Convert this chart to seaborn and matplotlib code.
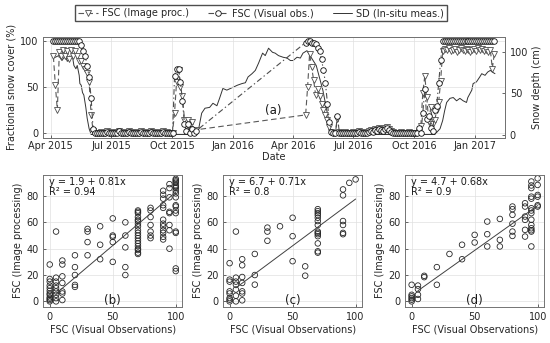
import pandas as pd
import matplotlib
matplotlib.use("Agg")
import matplotlib.pyplot as plt
import matplotlib.dates as mdates
import seaborn as sns

# --- panel (a): FSC every 3 days, two observation periods ---
p1_start = "2015-04-05"
p1_img = [83, 52, 25, 88, 84, 90, 83, 89, 80, 90, 84, 89, 84, 78, 78, 73, 70, 65, 55, 20, 3, 0,
          1, 0, 2, 0, 1, 3, 0, 2, 1, 0, 2, 3, 1, 0, 2, 1, 3, 2, 0, 1,
          2, 0, 3, 1, 2, 0, 1, 3, 2, 1, 0, 2, 1, 3, 0, 2, 1, 0,
          1, 22, 55, 68, 50, 40, 15, 8, 15, 5, 12, 3, 4]
p1_vis = [100, 100, 100, 100, 100, 100, 100, 100, 100, 100, 100, 100, 100, 100, 95, 89, 84, 73, 61, 38, 5, 0,
          0, 0, 1, 0, 0, 2, 0, 0, 1, 0, 0, 3, 0, 0, 1, 0, 2, 0, 0, 0,
          1, 0, 2, 0, 0, 0, 1, 2, 0, 0, 0, 1, 0, 2, 0, 0, 0, 0,
          0, 62, 70, 70, 55, 35, 10, 3, 10, 0, 5, 0, 3]

p2_start = "2016-04-20"
p2_img = [20, 50, 86, 72, 58, 42, 48, 40, 32, 25, 20, 14, 7, 2, 0, 1, 16, 2,
          1, 0, 2, 1, 0, 1, 2, 0, 1, 3, 2, 1, 0, 2, 3, 4, 3, 5, 4, 6,
          5, 4, 6, 7, 5, 3, 2, 1, 0, 1, 2, 0, 1, 0, 2, 1, 0, 1,
          1, 2, 8, 44, 62, 39, 12, 28, 10, 14, 25, 34, 57, 89,
          91, 90, 92, 89, 90, 91, 88, 90, 92, 90, 89, 91, 90, 88, 90, 91, 89, 92, 90, 91, 89, 90, 88,
          90, 70, 86]
p2_vis = [98, 100, 100, 98, 97, 96, 92, 89, 80, 68, 54, 32, 12, 2, 0, 0, 19, 1,
          0, 0, 1, 0, 0, 0, 1, 0, 0, 2, 1, 0, 0, 1, 2, 3, 2, 4, 3, 5,
          4, 3, 5, 6, 4, 2, 1, 0, 0, 0, 1, 0, 0, 0, 1, 0, 0, 0,
          0, 6, 0, 22, 48, 16, 19, 6, 3, 25, 30, 54, 79, 100,
          100, 100, 100, 100, 100, 100, 100, 100, 100, 100, 100, 100, 100, 100, 100, 100, 100, 100, 100, 100, 100, 100, 100,
          100, 100, 100]

sd_dates = ["2015-04-05", "2015-04-08", "2015-04-13", "2015-04-18", "2015-04-23", "2015-04-26", "2015-05-01",
            "2015-05-04", "2015-05-06", "2015-05-09", "2015-05-11", "2015-05-14", "2015-05-15", "2015-05-17",
            "2015-05-19", "2015-05-21", "2015-05-24", "2015-05-26", "2015-05-29", "2015-06-01", "2015-11-08",
            "2015-11-10", "2015-11-15", "2015-11-20", "2015-11-27", "2015-12-02", "2015-12-08", "2015-12-12",
            "2015-12-17", "2015-12-23", "2015-12-31", "2016-01-08", "2016-01-15", "2016-01-20", "2016-01-24",
            "2016-01-30", "2016-02-04", "2016-02-09", "2016-02-15", "2016-02-19", "2016-02-24", "2016-03-01",
            "2016-03-05", "2016-03-10", "2016-03-17", "2016-03-23", "2016-03-28", "2016-04-01", "2016-04-07",
            "2016-04-12", "2016-04-16", "2016-04-22", "2016-05-06", "2016-05-16", "2016-05-25", "2016-05-29",
            "2016-11-01", "2016-11-09", "2016-11-13", "2016-11-16", "2016-11-19", "2016-11-24", "2016-11-29",
            "2016-12-04", "2016-12-09", "2016-12-14", "2016-12-19", "2016-12-21", "2016-12-27", "2016-12-29",
            "2017-01-03", "2017-01-08", "2017-01-11", "2017-01-16", "2017-01-20", "2017-01-24", "2017-01-27",
            "2017-01-31"]
sd_cm = [94, 94, 96, 90, 96, 89, 93, 94, 84, 80, 84, 72, 62, 60, 51, 48, 33, 20, 7, 0, 0,
         5, 26, 32, 33, 38, 35, 44, 56, 54, 57, 60, 62, 63, 70, 74, 78, 87, 99, 96, 105, 100,
         99, 96, 94, 93, 90, 90, 94, 93, 99, 102, 84, 54, 17, 0,
         0, 7, 17, 29, 39, 44, 45, 41, 44, 41, 39, 45, 54, 62, 64, 70, 74, 72, 76, 78, 76, 74]

# --- panels (b)-(d): visual vs image-processing FSC ---
b_vis = [0, 0, 0, 0, 0, 0, 0, 0, 0, 0, 0, 0,
         5, 5, 5, 5, 5, 5, 5, 5, 5,
         10, 10, 10, 10, 10, 10, 10,
         20, 20, 20, 20, 20,
         30, 30, 30, 30,
         40, 40, 40,
         50, 50, 50, 50, 50,
         60, 60, 60, 60, 60,
         70, 70, 70, 70, 70, 70, 70, 70, 70, 70, 70, 70, 70, 70, 70, 70, 70, 70, 70,
         80, 80, 80, 80, 80, 80, 80,
         90, 90, 90, 90, 90, 90, 90, 90, 90, 90, 90, 90,
         95, 95, 95, 95, 95, 95, 95, 95,
         100, 100, 100, 100, 100, 100, 100, 100, 100, 100, 100, 100, 100, 100, 100, 100, 100, 100]
b_img = [28, 17, 15, 12, 10, 8, 6, 5, 3, 2, 1, 0,
         53, 18, 15, 12, 10, 7.5, 5, 2.5, 0,
         31, 28, 19, 14, 7.5, 6, 1,
         35, 26, 20, 12.5, 11,
         55, 53, 45, 35,
         57, 43, 32,
         63, 50, 49, 45, 30,
         60, 50, 41, 26, 20,
         69, 68, 67, 64, 62, 61, 59, 57, 54, 52, 50, 48, 46, 44, 42, 40, 39, 37, 36,
         71, 69, 64, 58, 53, 50, 48,
         84, 81, 78, 73, 71, 62, 59, 57, 54, 52, 49, 47,
         89, 86, 79, 68, 67, 58, 54, 40,
         93, 92, 91, 90, 88, 87, 86, 84, 82, 79, 73, 72, 69, 67, 53, 52, 25, 23]

c_vis = [0, 0, 0, 0, 0, 0, 0, 0,
         5, 5, 5, 5, 5, 5, 5,
         10, 10, 10, 10, 10, 10, 10,
         20, 20, 20,
         30, 30, 30,
         40,
         50, 50, 50,
         60, 60,
         70, 70, 70, 70, 70, 70, 70, 70, 70, 70, 70, 70, 70, 70,
         90, 90, 90, 90, 90, 90,
         95, 100]
c_img = [29, 16.5, 15, 7.6, 6, 2.5, 1.3, 0,
         53, 18, 15, 12.7, 9, 4.3, 0,
         32, 27.4, 18.5, 14, 7.6, 6, 0.8,
         36, 20, 12.7,
         56, 53, 46,
         57,
         63.5, 49.5, 30.5,
         26.6, 19.5,
         70, 68.5, 67, 65.5, 63.5, 61, 58, 53, 52, 51, 49.5, 44, 38, 37,
         85, 80.5, 61, 58, 52, 51,
         90, 92.6]

d_vis = [0, 0, 0, 0, 0, 0,
         5, 5, 5, 5,
         10, 10,
         20, 20,
         30,
         40, 40,
         50, 50,
         60, 60, 60,
         70, 70, 70,
         80, 80, 80, 80, 80, 80,
         90, 90, 90, 90, 90, 90,
         95, 95, 95, 95, 95, 95, 95, 95, 95, 95, 95, 95, 95, 95,
         100, 100, 100, 100, 100, 100]
d_img = [12.6, 5, 3.8, 2.5, 1.3, 0,
         12, 9.3, 5, 1.8,
         19.4, 18.4,
         26, 12.6,
         36,
         43, 32,
         50.5, 44.7,
         60.6, 51, 41.7,
         62.6, 46.7, 41.7,
         72, 70, 65.7, 59, 53, 49.7,
         74.5, 72, 64.4, 61.9, 54.3, 49.2,
         91, 88, 86, 79.5, 78, 70.7, 69, 67, 62, 58, 55.5, 54, 53, 41.7,
         93.4, 88.4, 80.8, 79.5, 73, 72]

fit_intercept = [1.9, 6.7, 4.7]
fit_slope = [0.81, 0.71, 0.68]
fit_r2 = ["0.94", "0.8", "0.9"]
fit_x = [5, 100]
panel_tags = ["(b)", "(c)", "(d)"]

sns.set_theme(style="whitegrid", rc={
    "axes.edgecolor": "0.45", "axes.linewidth": 0.7, "grid.color": "0.88", "grid.linewidth": 0.5,
    "xtick.direction": "in", "ytick.direction": "in", "xtick.major.size": 2.5, "ytick.major.size": 2.5,
    "xtick.major.width": 0.6, "ytick.major.width": 0.6, "xtick.bottom": True, "ytick.left": True,
    "xtick.color": "0.3", "ytick.color": "0.3", "xtick.labelcolor": "0.15", "ytick.labelcolor": "0.15",
    "xtick.labelsize": 7, "ytick.labelsize": 7, "axes.labelsize": 7, "axes.labelcolor": "0.15",
})
plt.rcParams["font.family"] = ["DejaVu Sans"]

fsc = pd.concat([
    pd.DataFrame({"date": pd.date_range(p1_start, periods=len(p1_img), freq="3D"), "img": p1_img, "vis": p1_vis}),
    pd.DataFrame({"date": pd.date_range(p2_start, periods=len(p2_img), freq="3D"), "img": p2_img, "vis": p2_vis}),
], ignore_index=True)
sd = pd.DataFrame({"date": pd.to_datetime(sd_dates), "sd": sd_cm})

fig = plt.figure(figsize=(5.5, 3.43), dpi=100)
ax = fig.add_axes([0.079, 0.598, 0.839, 0.295])
ax2 = ax.twinx()

sns.lineplot(data=sd, x="date", y="sd", ax=ax2, color="0.2", linewidth=0.7)
sns.lineplot(data=fsc, x="date", y="img", ax=ax, color="0.35", linewidth=0.8, linestyle=(0, (5, 3)),
             marker="v", markersize=4, markerfacecolor="white", markeredgecolor="0.3", markeredgewidth=0.6)
sns.lineplot(data=fsc, x="date", y="vis", ax=ax, color="0.3", linewidth=0.8, linestyle=(0, (5, 2.5, 1.2, 2.5)),
             marker="o", markersize=4, markerfacecolor="white", markeredgecolor="0.05", markeredgewidth=0.6)
ax.set_zorder(ax2.get_zorder() + 1)
ax.patch.set_visible(False)
ax2.grid(False)

ax.set_xlim(pd.Timestamp("2015-03-21"), pd.Timestamp("2017-02-15"))
ax.set_ylim(-4.75, 104.3)
ax2.set_ylim(-4.1, 119)
ax.set_yticks([0, 50, 100])
ax2.set_yticks([0, 50, 100])
ax.xaxis.set_major_locator(mdates.MonthLocator(bymonth=[1, 4, 7, 10]))
ax.xaxis.set_major_formatter(mdates.DateFormatter("%b %Y"))
ax.set_xlabel("Date", labelpad=1)
ax.set_ylabel("Fractional snow cover (%)", labelpad=3)
ax2.set_ylabel("Snow depth (cm)", labelpad=3)
ax2.tick_params(axis="y", right=True, direction="in", length=2.5)
ax.tick_params(axis="x", pad=2)
ax.text(0.481, 0.235, "(a)", transform=ax.transAxes, fontsize=8.5, color="0.1")

h = [ax.lines[0], ax.lines[1], ax2.lines[0]]
fig.legend(h, ["FSC (Image proc.)", "FSC (Visual obs.)", "SD (In-situ meas.)"], loc="center",
           bbox_to_anchor=(0.475, 0.962), ncol=3, fontsize=7, frameon=True, fancybox=False,
           edgecolor="0.3", framealpha=1, handlelength=2.0, columnspacing=2.0, borderpad=0.35,
           handletextpad=0.4)

scat = [(b_vis, b_img), (c_vis, c_img), (d_vis, d_img)]
lefts = [0.079, 0.406, 0.737]
for k, (xv, yv) in enumerate(scat):
    a = fig.add_axes([lefts[k], 0.106, 0.252, 0.384])
    sns.scatterplot(x=xv, y=yv, ax=a, marker="o", s=16, facecolors="none", edgecolor="0.15", linewidth=0.6)
    fy = [fit_intercept[k] + fit_slope[k] * v for v in fit_x]
    a.plot(fit_x, fy, color="0.25", linewidth=0.7)
    a.set_xlim(-5, 105)
    a.set_ylim(-4, 96)
    a.set_xticks([0, 50, 100])
    a.set_yticks([0, 20, 40, 60, 80])
    a.set_xlabel("FSC (Visual Observations)", labelpad=2)
    a.set_ylabel("FSC (Image processing)", labelpad=2)
    a.text(0.04, 0.985, f"y = {fit_intercept[k]} + {fit_slope[k]}x\nR² = {fit_r2[k]}", transform=a.transAxes,
           va="top", ha="left", fontsize=7, color="0.1", linespacing=1.0)
    a.text(0.5, 0.0, panel_tags[k], transform=a.transAxes, ha="center", va="bottom", fontsize=8.5, color="0.1")

fig.savefig("out.png", dpi=100)
